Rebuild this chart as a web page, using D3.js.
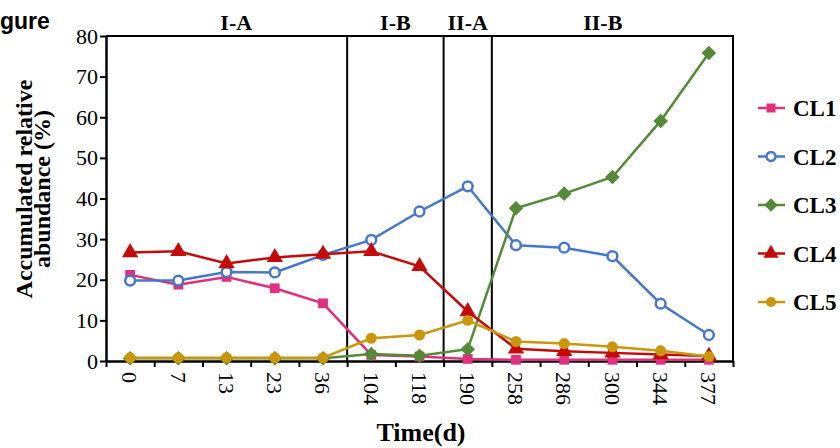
<!DOCTYPE html>
<html>
    <head>
        <meta charset="utf-8">
        <script type="text/javascript" src="https://cdn.jsdelivr.net/npm/d3@7/dist/d3.min.js"></script>
        <style>
            body { margin: 0; background: #fff; }
        </style>
    </head>
    <body>
        <svg></svg>

        <script>
            // sampling days (categories)
            var days = ["0", "7", "13", "23", "36", "104", "118", "190", "258", "286", "300", "344", "377"];

            // accumulated relative abundance (%) per cluster
            var CL1 = [21.2, 18.8, 20.7, 17.9, 14.2, 1.5, 1.1, 0.5, 0.3, 0.3, 0.3, 0.3, 0.3];
            var CL2 = [19.8, 19.8, 21.9, 21.8, 26.1, 29.8, 36.8, 43.0, 28.5, 27.9, 25.8, 14.1, 6.4];
            var CL3 = [0.7, 0.7, 0.7, 0.7, 0.7, 1.7, 1.3, 2.9, 37.6, 41.2, 45.3, 59.1, 75.8];
            var CL4 = [26.7, 27.0, 24.0, 25.5, 26.3, 27.0, 23.3, 12.2, 3.0, 2.4, 2.0, 1.6, 1.2];
            var CL5 = [0.8, 0.8, 0.8, 0.8, 0.8, 5.6, 6.4, 10.0, 4.8, 4.3, 3.5, 2.5, 1.1];

            var yTicks = [0, 10, 20, 30, 40, 50, 60, 70, 80];

            // phases and the category boundaries between them
            var phases = ["I-A", "I-B", "II-A", "II-B"];
            var phaseBreaks = [5, 7, 8];

            var serif = "'Liberation Serif', 'Times New Roman', serif";

            var w = 840, h = 448;
            var plotL = 106, plotR = 733, plotT = 36, plotB = 361;

            var svg = d3.select("svg")
                    .attr("width", w)
                    .attr("height", h);

            var x = d3.scaleBand().domain(days).range([plotL, plotR]);
            var xi = d3.scaleLinear().domain([0, days.length]).range([plotL, plotR]);
            var y = d3.scaleLinear().domain([0, 80]).range([plotB, plotT]);

            function cx(i) { return x(days[i]) + x.bandwidth() / 2; }

            var diamond = d3.symbolDiamond2 || d3.symbolDiamond;

            var series = [
                { name: "CL1", values: CL1, color: "#e0307e", symbol: d3.symbolSquare, size: 95, fill: true },
                { name: "CL2", values: CL2, color: "#4677cc", symbol: d3.symbolCircle, size: 75, fill: false },
                { name: "CL3", values: CL3, color: "#548a37", symbol: diamond, size: 135, fill: true },
                { name: "CL4", values: CL4, color: "#c50a0a", symbol: d3.symbolTriangle, size: 115, fill: true },
                { name: "CL5", values: CL5, color: "#c9960c", symbol: d3.symbolCircle, size: 95, fill: true }
            ];

            // frame (top + right)
            svg.append("path")
                    .attr("d", "M" + plotL + "," + plotT + "H" + plotR + "V" + plotB)
                    .attr("fill", "none")
                    .attr("stroke", "black")
                    .attr("stroke-width", 2);

            // phase separators
            svg.append("g").selectAll("line")
                    .data(phaseBreaks)
                    .enter().append("line")
                    .attr("x1", function(d) { return xi(d); })
                    .attr("x2", function(d) { return xi(d); })
                    .attr("y1", plotT)
                    .attr("y2", plotB)
                    .attr("stroke", "black")
                    .attr("stroke-width", 2);

            // phase labels
            var phaseAt = [2.2, 5.5, 7, 9.8];
            svg.append("g").selectAll("text")
                    .data(phases)
                    .enter().append("text")
                    .attr("x", function(d, i) { return xi(phaseAt[i] + 0.5); })
                    .attr("y", 30)
                    .attr("text-anchor", "middle")
                    .style("font-family", serif)
                    .attr("font-size", 22)
                    .attr("font-weight", "bold")
                    .text(function(d) { return d; });

            // y axis
            var yAxis = svg.append("g")
                    .attr("transform", "translate(" + plotL + ",0)")
                    .call(d3.axisLeft(y).tickValues(yTicks).tickSize(6).tickPadding(2).tickSizeOuter(0));
            yAxis.select(".domain").attr("stroke-width", 2.5);
            yAxis.selectAll(".tick line").attr("stroke-width", 2);
            yAxis.selectAll("text")
                    .style("font-family", serif)
                    .attr("font-size", 22)
                    .attr("fill", "black");

            // x axis: ticks at category boundaries
            var xTickAxis = svg.append("g")
                    .attr("transform", "translate(0," + plotB + ")")
                    .call(d3.axisBottom(xi).tickValues(d3.range(0, days.length + 1)).tickFormat("").tickSize(6).tickSizeOuter(0));
            xTickAxis.select(".domain").attr("stroke-width", 2.5);
            xTickAxis.selectAll(".tick line").attr("stroke-width", 2);

            // x labels rotated
            svg.append("g").selectAll("text")
                    .data(days)
                    .enter().append("text")
                    .attr("transform", function(d, i) { return "translate(" + cx(i) + "," + (plotB + 11) + ") rotate(90)"; })
                    .attr("dy", "0.35em")
                    .style("font-family", serif)
                    .attr("font-size", 22)
                    .text(function(d) { return d; });

            // axis titles
            svg.append("text")
                    .attr("x", 421)
                    .attr("y", 441)
                    .attr("text-anchor", "middle")
                    .style("font-family", serif)
                    .attr("font-size", 26)
                    .attr("font-weight", "bold")
                    .text("Time(d)");

            var yTitle = svg.append("text")
                    .attr("transform", "translate(0,189) rotate(-90)")
                    .attr("text-anchor", "middle")
                    .style("font-family", serif)
                    .attr("font-size", 24)
                    .attr("font-weight", "bold");
            yTitle.append("tspan").attr("x", 0).attr("y", 32).text("Accumulated relative");
            yTitle.append("tspan").attr("x", 0).attr("y", 50).text("abundance (%)");

            // "gure" fragment at top-left
            svg.append("text")
                    .attr("x", 0)
                    .attr("y", 29)
                    .style("font-family", "'Liberation Sans', Arial, sans-serif")
                    .attr("font-size", 23)
                    .attr("font-weight", "bold")
                    .text("gure");

            // lines and markers
            var line = d3.line()
                    .x(function(d, i) { return cx(i); })
                    .y(function(d) { return y(d); });

            series.forEach(function(s) {
                var g = svg.append("g");
                g.append("path")
                        .attr("d", line(s.values))
                        .attr("fill", "none")
                        .attr("stroke", s.color)
                        .attr("stroke-width", 2.5);
                g.selectAll("path.m")
                        .data(s.values)
                        .enter().append("path")
                        .attr("class", "m")
                        .attr("d", d3.symbol().type(s.symbol).size(s.size))
                        .attr("transform", function(d, i) { return "translate(" + cx(i) + "," + y(d) + ")"; })
                        .attr("fill", s.fill ? s.color : "white")
                        .attr("stroke", s.color)
                        .attr("stroke-width", s.fill ? 0 : 2.5);
            });

            // legend
            var legend = svg.append("g").selectAll("g")
                    .data(series)
                    .enter().append("g")
                    .attr("transform", function(d, i) { return "translate(771," + (108 + i * 48.5) + ")"; });
            legend.append("line")
                    .attr("x1", -13).attr("x2", 14)
                    .attr("stroke", function(d) { return d.color; })
                    .attr("stroke-width", 2.5);
            legend.append("path")
                    .attr("d", function(d) { return d3.symbol().type(d.symbol).size(d.size * 0.85)(); })
                    .attr("fill", function(d) { return d.fill ? d.color : "white"; })
                    .attr("stroke", function(d) { return d.color; })
                    .attr("stroke-width", function(d) { return d.fill ? 0 : 2.5; });
            legend.append("text")
                    .attr("x", 22)
                    .attr("dy", "0.35em")
                    .style("font-family", serif)
                    .attr("font-size", 23)
                    .attr("font-weight", "bold")
                    .text(function(d) { return d.name; });
        </script>
    </body>
</html>
